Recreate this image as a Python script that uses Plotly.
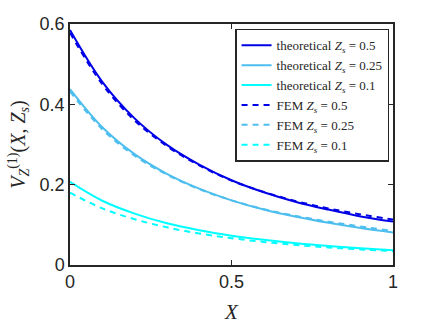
import plotly.graph_objects as go

X = [0.0, 0.1, 0.2, 0.3, 0.4, 0.5, 0.6, 0.7, 0.8, 0.9, 1.0]

theo_05 = [0.585, 0.456, 0.365, 0.299, 0.250, 0.211, 0.181, 0.157, 0.138, 0.121, 0.108]
theo_025 = [0.438, 0.343, 0.276, 0.227, 0.190, 0.161, 0.138, 0.120, 0.105, 0.092, 0.081]
theo_01 = [0.207, 0.160, 0.128, 0.104, 0.0866, 0.0731, 0.0626, 0.0541, 0.0473, 0.0417, 0.037]

fem_05 = [0.578, 0.450, 0.360, 0.296, 0.248, 0.210, 0.182, 0.159, 0.141, 0.126, 0.113]
fem_025 = [0.432, 0.338, 0.272, 0.225, 0.189, 0.161, 0.139, 0.122, 0.108, 0.096, 0.085]
fem_01 = [0.180, 0.141, 0.114, 0.0938, 0.0785, 0.0667, 0.0574, 0.0499, 0.0438, 0.0387, 0.0345]

names = [
    "theoretical <i>Z<sub>s</sub></i> = 0.5",
    "theoretical <i>Z<sub>s</sub></i> = 0.25",
    "theoretical <i>Z<sub>s</sub></i> = 0.1",
    "FEM <i>Z<sub>s</sub></i> = 0.5",
    "FEM <i>Z<sub>s</sub></i> = 0.25",
    "FEM <i>Z<sub>s</sub></i> = 0.1",
]
colors = ["#0000e6", "#4dbeee", "#00ffff"]

fig = go.Figure()
for i, ys in enumerate([theo_05, theo_025, theo_01]):
    fig.add_trace(go.Scatter(x=X, y=ys, mode="lines", name=names[i],
                             line=dict(color=colors[i], width=2, shape="spline")))
for i, ys in enumerate([fem_05, fem_025, fem_01]):
    fig.add_trace(go.Scatter(x=X, y=ys, mode="lines", name=names[3 + i],
                             line=dict(color=colors[i], width=2, dash="6px,5px", shape="spline")))

axis_common = dict(
    showline=True, linecolor="#262626", linewidth=1.5, mirror="allticks",
    ticks="inside", ticklen=5, tickcolor="#262626", tickwidth=1,
    showgrid=False, zeroline=False,
    tickfont=dict(family="Liberation Sans, Arial, sans-serif", size=18, color="#262626"),
)
fig.update_xaxes(range=[0, 1], tickvals=[0, 0.5, 1], ticktext=["0", "0.5", "1"], **axis_common)
fig.update_yaxes(range=[0, 0.6], tickvals=[0, 0.2, 0.4, 0.6], ticktext=["0", "0.2", "0.4", "0.6"], **axis_common)

fig.add_annotation(text="<i>X</i>", xref="paper", yref="paper", x=0.5, y=-0.195,
                   xanchor="center", yanchor="middle",
                   showarrow=False, font=dict(family="Liberation Serif, serif", size=21, color="#262626"))
fig.add_annotation(text="<i>V</i><sub><i>Z</i></sub><sup>(1)</sup>(<i>X</i>, <i>Z<sub>s</sub></i>)",
                   xref="paper", yref="paper", x=-0.16, y=0.5, textangle=-90,
                   xanchor="center", yanchor="middle",
                   showarrow=False, font=dict(family="Liberation Serif, serif", size=20, color="#262626"))

fig.update_layout(
    width=434, height=326,
    margin=dict(l=70, r=41, t=24, b=61),
    paper_bgcolor="white", plot_bgcolor="white",
    showlegend=True,
    legend=dict(x=0.511, y=0.98, xanchor="left", yanchor="top",
                bgcolor="white", bordercolor="#262626", borderwidth=1.5,
                font=dict(family="Liberation Serif, serif", size=13, color="#262626"),
                itemwidth=30, tracegroupgap=0),
)
fig.write_html("out.html", config={"displayModeBar": False},
               post_script="document.body.style.margin='0px';")
